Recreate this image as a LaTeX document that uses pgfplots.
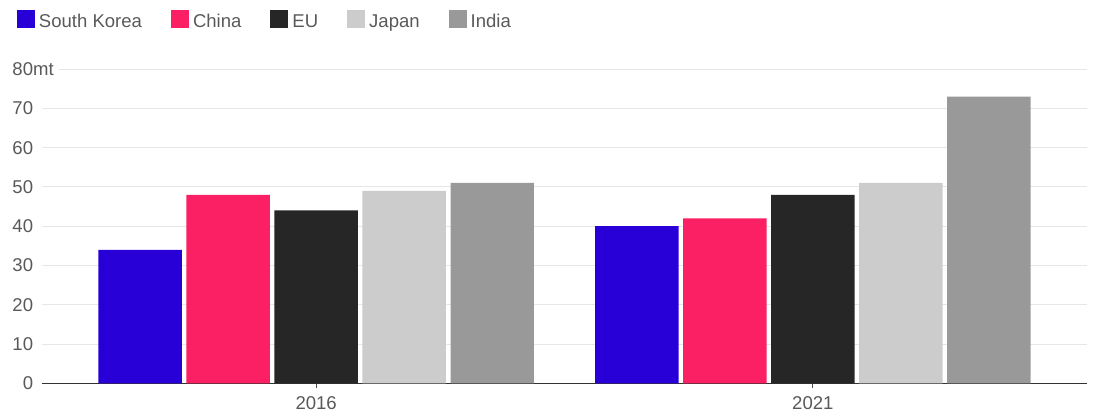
\documentclass[border=0pt]{standalone}
\usepackage{pgfplots}
\pgfplotsset{compat=1.18}
\usepackage{fontspec}
\setmainfont{Liberation Sans}
\definecolor{cSK}{HTML}{2800D7}
\definecolor{cCN}{HTML}{FB1F64}
\definecolor{cEU}{HTML}{262626}
\definecolor{cJP}{HTML}{CCCCCC}
\definecolor{cIN}{HTML}{999999}
\definecolor{txt}{HTML}{595959}
\definecolor{grd}{HTML}{E6E6E6}
\begin{document}
\fontsize{13.9pt}{16pt}\selectfont
\begin{tikzpicture}
\begin{axis}[
  name=ax,
  scale only axis,
  width=783.75pt, height=235.7pt,
  xmin=-0.552, xmax=1.552,
  ymin=0, ymax=80,
  xtick={0,1}, xticklabels={2016,2021},
  ytick={0,10,20,30,40,50,60,70,80},
  yticklabels={0,10,20,30,40,50,60,70,{80\rlap{\fboxsep=0pt\colorbox{white}{mt\kern3.75pt}}}},
  axis x line*=bottom,
  axis y line*=left,
  y axis line style={draw=none},
  ymajorgrids,
  grid style={grd, line width=0.75pt},
  x axis line style={draw=black!80, line width=0.75pt, -},
  tick align=outside,
  major tick length=3.75pt,
  xtick style={draw=black!70, line width=0.75pt},
  ytick style={draw=none},
  xticklabel style={text=txt, font=\fontsize{13.9pt}{16pt}\selectfont, inner sep=0pt, anchor=north, yshift=-6pt},
  yticklabel style={text=txt, font=\fontsize{13.9pt}{16pt}\selectfont, inner sep=0pt, anchor=east},
  every y tick label/.append style={xshift=-2.75pt},
  legend columns=5,
  legend style={draw=none, fill=none, inner sep=0pt, outer sep=0pt,
    at={(axis description cs:0,1)}, anchor=north west,
    xshift=-18.75pt, yshift=44.25pt,
    nodes={inner sep=0pt, text=txt, font=\fontsize{13.9pt}{16pt}\selectfont},
    column sep=3pt,
    /tikz/every even column/.append style={column sep=21.75pt}},
  legend image code/.code={\fill[#1] (0pt,-4.5pt) rectangle (13.5pt,9pt);},
]
\addplot[ybar, bar width=62.5pt, bar shift=-132pt, fill=cSK, draw=none] coordinates {(0,34) (1,40)};
\addplot[ybar, bar width=62.5pt, bar shift=-66pt, fill=cCN, draw=none] coordinates {(0,48) (1,42)};
\addplot[ybar, bar width=62.5pt, bar shift=0pt, fill=cEU, draw=none] coordinates {(0,44) (1,48)};
\addplot[ybar, bar width=62.5pt, bar shift=66pt, fill=cJP, draw=none] coordinates {(0,49) (1,51)};
\addplot[ybar, bar width=62.5pt, bar shift=132pt, fill=cIN, draw=none] coordinates {(0,51) (1,73)};
\legend{South Korea, China, EU, Japan, India}
\end{axis}
\pgfresetboundingbox
\path ([xshift=-31.5pt,yshift=-24.5pt]ax.south west) rectangle ++(822pt,312pt);
\end{tikzpicture}
\end{document}
